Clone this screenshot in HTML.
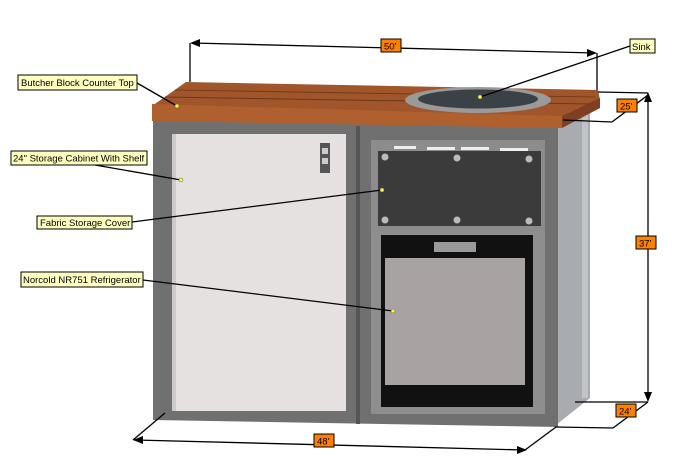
<!DOCTYPE html>
<html><head><style>
html,body{margin:0;padding:0;background:#fff;}
svg{display:block;font-family:"Liberation Sans",sans-serif;}
</style></head><body>
<svg width="680" height="470" viewBox="0 0 680 470" xmlns="http://www.w3.org/2000/svg">
<polygon points="556,118 590,102 590,398 556,425" fill="#a8acb0"/>
<rect x="582" y="104" width="6" height="294" fill="#c0c4c8"/>
<polygon points="153,120 558,126 558,427 153,420" fill="#707070"/>
<rect x="172" y="134" width="174" height="277" fill="#e6e1e1"/>
<rect x="172" y="134" width="4" height="277" fill="#cfcaca"/>
<rect x="320" y="143" width="10" height="30" fill="#555"/>
<rect x="322" y="148" width="6" height="6" fill="#ccc"/>
<rect x="322" y="158" width="6" height="6" fill="#ccc"/>
<rect x="356" y="126" width="4" height="298" fill="#555"/>
<rect x="371" y="140" width="174" height="92" fill="#8c8c8c"/>
<rect x="378" y="151" width="163" height="75" fill="#3b3b3b"/>
<rect x="394" y="146" width="22" height="3" fill="#eee"/>
<rect x="427" y="147" width="28" height="3" fill="#eee"/>
<rect x="461" y="147" width="28" height="3" fill="#eee"/>
<rect x="500" y="148" width="28" height="3" fill="#eee"/>
<circle cx="385" cy="157" r="3.5" fill="#bbb"/><circle cx="457" cy="158" r="3.5" fill="#bbb"/><circle cx="529" cy="159" r="3.5" fill="#bbb"/>
<circle cx="385" cy="220" r="3.5" fill="#bbb"/><circle cx="457" cy="220" r="3.5" fill="#bbb"/><circle cx="529" cy="221" r="3.5" fill="#bbb"/>
<rect x="371" y="232" width="174" height="182" fill="#8e8e8e"/>
<rect x="381" y="235" width="152" height="172" fill="#111"/>
<rect x="434" y="242" width="42" height="10" fill="#999"/>
<rect x="385" y="258" width="140" height="127" fill="#a8a2a2"/>
<polygon points="186,82 598,90 600,100 562,118 152,106" fill="#a0552a"/>
<polygon points="152,104 562,116 562,128 152,121" fill="#b0602e"/>
<polygon points="562,116 600,98 600,108 562,128" fill="#7e4020"/>
<line x1="165" y1="97" x2="590" y2="104" stroke="#6e3818" stroke-width="1"/>
<line x1="175" y1="90" x2="595" y2="97" stroke="#6e3818" stroke-width="0.8"/>
<ellipse cx="478" cy="100" rx="73" ry="13" fill="#9a9a9a"/>
<ellipse cx="478" cy="99" rx="60" ry="9.5" fill="#3b4247"/>
<g stroke="#000" stroke-width="1.3" fill="none">
<line x1="190" y1="43" x2="190" y2="82"/>
<line x1="597" y1="53" x2="597" y2="90"/>
<line x1="192" y1="43" x2="595" y2="53"/>
<line x1="598" y1="92" x2="648" y2="93"/>
<line x1="648" y1="95" x2="648" y2="400"/>
<line x1="575" y1="402" x2="648" y2="402"/>
<line x1="563" y1="120" x2="612" y2="122"/>
<line x1="612" y1="122" x2="648" y2="95"/>
<line x1="555" y1="427" x2="613" y2="428"/>
<line x1="613" y1="428" x2="648" y2="402"/>
<line x1="135" y1="440" x2="525" y2="450"/>
<line x1="525" y1="450" x2="556" y2="427"/>
<line x1="133" y1="440" x2="165" y2="413"/>
<line x1="137" y1="83" x2="177" y2="106"/>
<line x1="95" y1="165" x2="181" y2="180"/>
<line x1="132" y1="222" x2="382" y2="190"/>
<line x1="143" y1="280" x2="393" y2="311"/>
<line x1="630" y1="46" x2="480" y2="97"/>
</g>
<g fill="#000">
<polygon points="190,43 200,39 200,47"/>
<polygon points="597,53 587,49 587,57"/>
<polygon points="648,92 644,102 652,102"/>
<polygon points="648,402 644,392 652,392"/>
<polygon points="133,440 143,436 143,444"/>
<polygon points="527,450 517,446 517,454"/>
</g>
<g fill="#ffff33" stroke="#666" stroke-width="0.5">
<circle cx="177" cy="106" r="2"/><circle cx="181" cy="180" r="2"/><circle cx="382" cy="190" r="2"/><circle cx="393" cy="311" r="2"/><circle cx="480" cy="97" r="2"/>
</g>
<g font-size="9.5" fill="#000">
<rect x="18" y="75" width="119" height="15" fill="#ffffc0" stroke="#000"/><text x="21" y="86">Butcher Block Counter Top</text>
<rect x="11" y="151" width="136" height="14" fill="#ffffc0" stroke="#000"/><text x="13" y="161.5">24" Storage Cabinet With Shelf</text>
<rect x="37" y="216" width="95" height="13" fill="#ffffc0" stroke="#000"/><text x="40" y="226">Fabric Storage Cover</text>
<rect x="21" y="272" width="122" height="15" fill="#ffffc0" stroke="#000"/><text x="23" y="283">Norcold NR751 Refrigerator</text>
<rect x="630" y="39" width="25" height="14" fill="#ffffc0" stroke="#000"/><text x="632" y="50">Sink</text>
</g>
<g font-size="9.5" fill="#000">
<rect x="381" y="39" width="20" height="13" fill="#ff8000" stroke="#000"/><text x="384" y="49.5">50'</text>
<rect x="617" y="99" width="20" height="13" fill="#ff8000" stroke="#000"/><text x="620" y="109.5">25'</text>
<rect x="636" y="236" width="20" height="13" fill="#ff8000" stroke="#000"/><text x="639" y="246.5">37'</text>
<rect x="616" y="404" width="20" height="13" fill="#ff8000" stroke="#000"/><text x="619" y="414.5">24'</text>
<rect x="314" y="434" width="20" height="13" fill="#ff8000" stroke="#000"/><text x="317" y="444.5">48'</text>
</g>
</svg>
</body></html>
